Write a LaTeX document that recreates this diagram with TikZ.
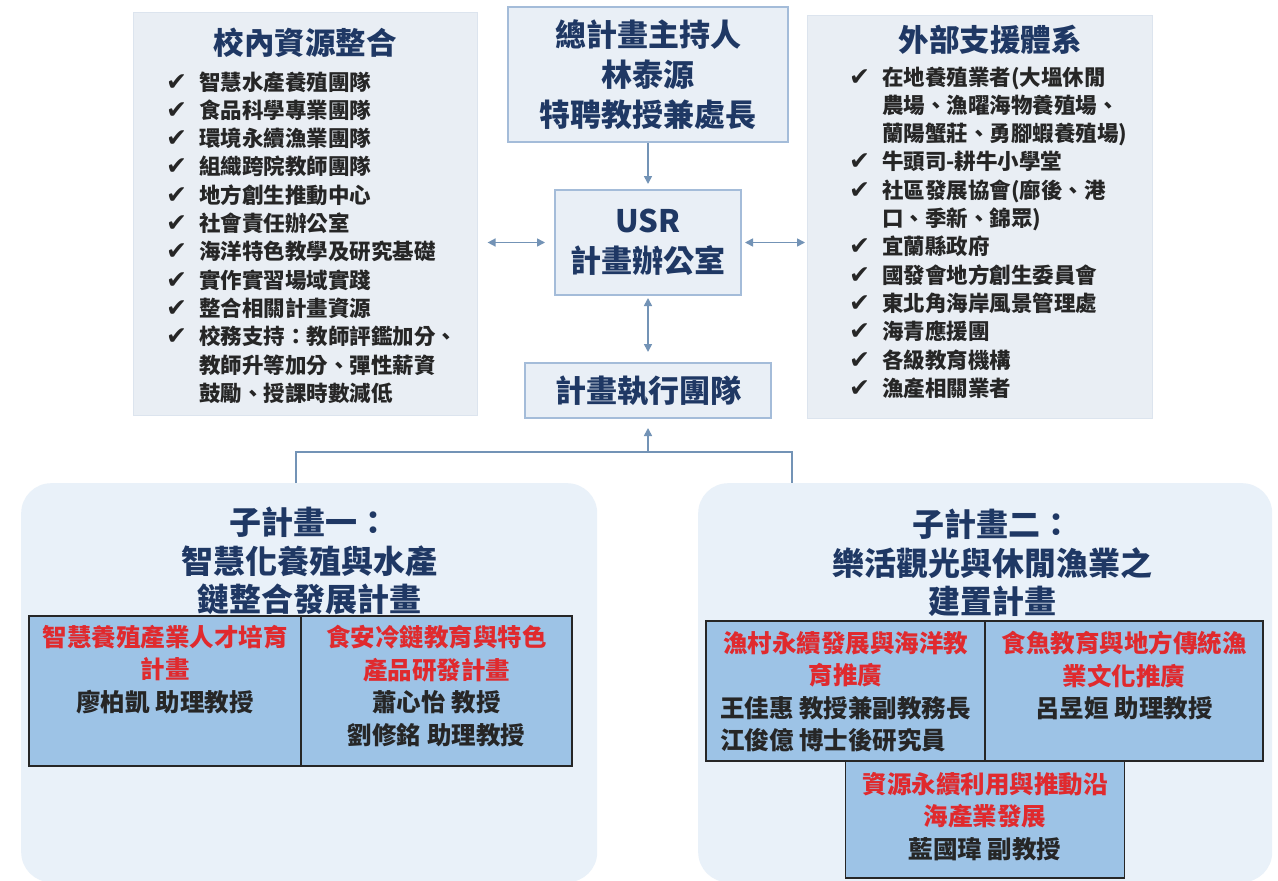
\documentclass[tikz,border=0pt]{standalone}
\usepackage{fontspec}
\usepackage{xcolor}
\usetikzlibrary{arrows.meta,positioning}
\setmainfont{Noto Sans CJK TC}
\newfontfamily\symfont{DejaVu Sans}
\definecolor{navy}{HTML}{1F3864}
\definecolor{redtxt}{HTML}{E02A2E}
\definecolor{listtxt}{HTML}{262626}
\definecolor{listfill}{HTML}{E9EEF4}
\definecolor{listline}{HTML}{DCE4EE}
\definecolor{boxfill}{HTML}{E9EFF6}
\definecolor{boxline}{HTML}{A4BCD9}
\definecolor{regionfill}{HTML}{E9F1F9}
\definecolor{cellfill}{HTML}{9DC3E6}
\definecolor{connline}{HTML}{7393B6}
\newcommand\chk{\makebox[19pt][l]{\symfont\fontsize{25}{25}\selectfont ✔}}
\newcommand\rl[1]{\textcolor{redtxt}{#1}}

\begin{document}
\begin{tikzpicture}[x=1pt,y=-1pt]
\tikzstyle{every node}+=[inner sep=0pt]
\tikzstyle{listbox}=[fill=listfill, draw=listline, line width=0.6pt, anchor=north west]
\tikzstyle{centerbox}=[fill=boxfill, draw=boxline, line width=2pt, align=center, text=navy, font=\fontsize{31}{40}\selectfont\bfseries]
\tikzstyle{region}=[fill=regionfill, rounded corners=30pt, anchor=north west]
\tikzstyle{cell}=[fill=cellfill, draw=black!85, line width=1.5pt, outer sep=0pt, anchor=north west]
\tikzstyle{celltext}=[align=center, text=listtxt, font=\fontsize{24.5}{32.5}\selectfont\bfseries]
\tikzstyle{listtext}=[text=listtxt, anchor=base west, font=\fontsize{21.5}{28.3}\selectfont\bfseries]
\tikzstyle{heading}=[text=navy, font=\fontsize{30.5}{38}\selectfont\bfseries]
\tikzstyle{subtitle}=[align=center, text=navy, font=\fontsize{32}{38.5}\selectfont\bfseries]
\tikzstyle{conn}=[draw=connline, line width=1.6pt]
\useasboundingbox (0,0) rectangle (1278,881);
\fill [white] (0,0) rectangle (1278,881);
\node[region, minimum width=576pt, minimum height=399pt] (sub1) at (21,483) {};
\node[region, minimum width=574pt, minimum height=399pt] (sub2) at (698,483) {};
\node[listbox, minimum width=344pt, minimum height=403pt] (inbox) at (133,12) {};
\node[listbox, minimum width=345pt, minimum height=403pt] (exbox) at (807,15) {};
\node[heading] (inhead) at (305,43) {校內資源整合};
\node[heading] (exhead) at (990,40) {外部支援體系};
\node[listtext] (inlist) at (166,90) {\begin{tabular}[t]{@{}l@{\hspace{14pt}}l@{}}
\chk & 智慧水產養殖團隊\\
\chk & 食品科學專業團隊\\
\chk & 環境永續漁業團隊\\
\chk & 組織跨院教師團隊\\
\chk & 地方創生推動中心\\
\chk & 社會責任辦公室\\
\chk & 海洋特色教學及研究基礎\\
\chk & 實作實習場域實踐\\
\chk & 整合相關計畫資源\\
\chk & 校務支持：教師評鑑加分、\\
 & 教師升等加分、彈性薪資\\
 & 鼓勵、授課時數減低
\end{tabular}};
\node[listtext] (exlist) at (849,85) {\begin{tabular}[t]{@{}l@{\hspace{14pt}}l@{}}
\chk & 在地養殖業者(大塭休閒\\
 & 農場、漁曜海物養殖場、\\
 & 蘭陽蟹莊、勇腳蝦養殖場)\\
\chk & 牛頭司-耕牛小學堂\\
\chk & 社區發展協會(廍後、港\\
 & 口、季新、錦眾)\\
\chk & 宜蘭縣政府\\
\chk & 國發會地方創生委員會\\
\chk & 東北角海岸風景管理處\\
\chk & 海青應援團\\
\chk & 各級教育機構\\
\chk & 漁產相關業者
\end{tabular}};
\node[centerbox, minimum width=280pt, minimum height=135pt] (chief) at (648,74.5) {總計畫主持人\\林泰源\\特聘教授兼處長};
\node[centerbox, minimum width=186pt, minimum height=105pt] (usr) at (648,242.5) {USR\\計畫辦公室};
\node[centerbox, minimum width=246pt, minimum height=55pt] (team) at (648,390.5) {計畫執行團隊};
\node[subtitle] (title1) at (309,561) {子計畫一：\\智慧化養殖與水產\\鏈整合發展計畫};
\node[subtitle] (title2) at (992,563) {子計畫二：\\樂活觀光與休閒漁業之\\建置計畫};
\node[cell, minimum width=272pt, minimum height=150pt] (c11) at (29,616) {};
\node[cell, minimum width=271pt, minimum height=150pt, right=0pt of c11] (c12) {};
\node[cell, minimum width=279pt, minimum height=140pt] (c21) at (706,621) {};
\node[cell, minimum width=278pt, minimum height=140pt, right=0pt of c21] (c22) {};
\node[cell, minimum width=279pt, minimum height=117pt, below=0pt of c21.south east] (c23) {};
\node[celltext, below=9pt of c11.north] (c11t) {\rl{智慧養殖產業人才培育}\\\rl{計畫}\\廖柏凱 助理教授};
\node[celltext, below=9pt of c12.north] (c12t) {\rl{食安冷鏈教育與特色}\\\rl{產品研發計畫}\\蕭心怡 教授\\劉修銘 助理教授};
\node[celltext, below=10pt of c21.north] (c21t) {\rl{漁村永續發展與海洋教}\\\rl{育推廣}\\\begin{tabular}[t]{@{}l@{}}王佳惠 教授兼副教務長\\江俊億 博士後研究員\end{tabular}};
\node[celltext, below=10pt of c22.north] (c22t) {\rl{食魚教育與地方傳統漁}\\\rl{業文化推廣}\\呂昱姮 助理教授};
\node[celltext, below=11pt of c23.north] (c23t) {\rl{資源永續利用與推動沿}\\\rl{海產業發展}\\藍國瑋 副教授};
\coordinate (busL) at (296,452);
\coordinate (busR) at (792,452);
\draw[conn, -{Triangle[length=8pt,width=8pt]}, shorten >=5pt] (chief.south) -- (usr.north);
\draw[conn, {Triangle[length=8pt,width=8pt]}-{Triangle[length=8pt,width=8pt]}, shorten <=9pt, shorten >=10pt] (usr.west) -- (usr.west -| inbox.east);
\draw[conn, {Triangle[length=8pt,width=8pt]}-{Triangle[length=8pt,width=8pt]}, shorten <=3pt, shorten >=2pt] (usr.east) -- (usr.east -| exbox.west);
\draw[conn, {Triangle[length=8pt,width=8pt]}-{Triangle[length=8pt,width=8pt]}, shorten <=2pt, shorten >=10pt] (usr.south) -- (team.north);
\draw[conn] (busL |- sub1.north) -- (busL) -- (busR) -- (busR |- sub2.north);
\draw[conn, -{Triangle[length=8pt,width=8pt]}, shorten >=9pt] (team.south |- busL) -- (team.south);
\end{tikzpicture}
\end{document}
